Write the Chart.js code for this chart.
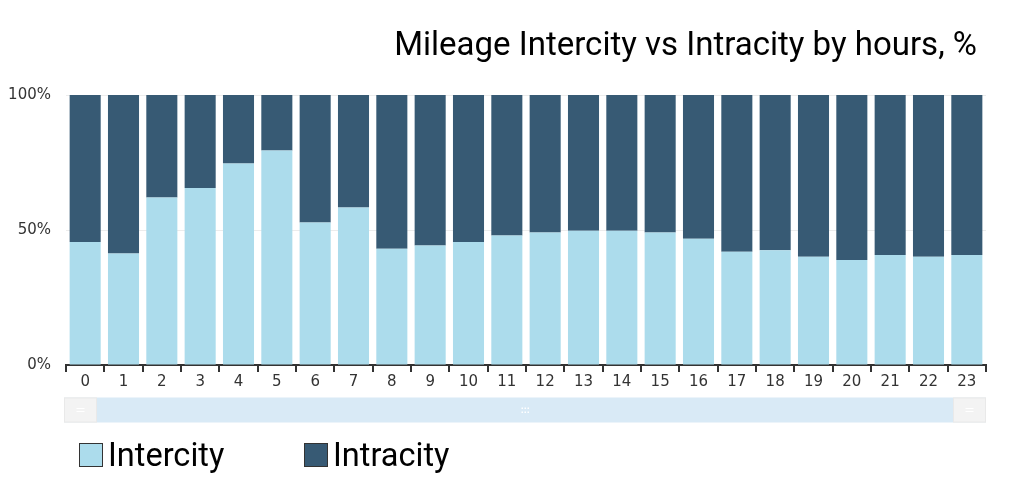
<!DOCTYPE html>
<html>
<head>
<meta charset="utf-8">
<script src="https://cdn.jsdelivr.net/npm/chart.js@4.4.1/dist/chart.umd.min.js"></script>
<style>
  html,body{margin:0;padding:0;background:#fff;}
  #wrap{position:relative;width:1024px;height:490px;overflow:hidden;}
  #c{position:absolute;left:0;top:0;}
  #title{position:absolute;right:47px;top:25px;font-family:Roboto,sans-serif;font-size:33px;line-height:38px;color:#000;white-space:nowrap;}
  .leg{position:absolute;top:436px;font-family:Roboto,sans-serif;font-size:32.5px;color:#000;white-space:nowrap;line-height:38px;}
  .sw{display:inline-block;width:22px;height:22px;border:1px solid #333;vertical-align:-1px;margin-right:5px;}
</style>
</head>
<body>
<div id="wrap">
  <canvas id="c" width="1024" height="490"></canvas>
  <div id="title">Mileage Intercity vs Intracity by hours, %</div>
  <div class="leg" style="left:79px"><span class="sw" style="background:#acdcec"></span>Intercity</div>
  <div class="leg" style="left:304px"><span class="sw" style="background:#375a74"></span>Intracity</div>
</div>
<script>
const hours = ['0','1','2','3','4','5','6','7','8','9','10','11','12','13','14','15','16','17','18','19','20','21','22','23'];
const intercity = [45.6,41.3,62.0,65.6,74.6,79.4,52.8,58.3,43.1,44.3,45.6,48.0,49.1,49.7,49.7,49.1,46.8,41.9,42.5,40.1,38.9,40.7,40.1,40.7];
const intracity = intercity.map(v => +(100 - v).toFixed(1));
const yTicks = [0, 50, 100];

const scrollbarPlugin = {
  id: 'scrollbar',
  afterDraw(chart) {
    const ctx = chart.ctx, a = chart.chartArea;
    const x0 = a.left - 2, x1 = a.right, y0 = 397.5, h = 25;
    ctx.save();
    ctx.fillStyle = '#d9eaf6';
    ctx.fillRect(x0, y0, x1 - x0, h);
    ctx.fillStyle = '#f3f3f3';
    ctx.strokeStyle = '#e9e9e9';
    ctx.lineWidth = 1;
    ctx.fillRect(x0, y0, 33, h); ctx.strokeRect(x0 + 0.5, y0 + 0.5, 32, h - 1);
    ctx.fillRect(x1 - 33, y0, 33, h); ctx.strokeRect(x1 - 32.5, y0 + 0.5, 32, h - 1);
    ctx.strokeStyle = '#ffffff';
    [x0 + 16.5, x1 - 16.5].forEach(cx => {
      ctx.beginPath();
      ctx.moveTo(cx - 4, y0 + 11); ctx.lineTo(cx + 4, y0 + 11);
      ctx.moveTo(cx - 4, y0 + 14); ctx.lineTo(cx + 4, y0 + 14);
      ctx.stroke();
    });
    ctx.fillStyle = '#ffffff';
    const cx = (x0 + x1) / 2;
    for (let i = -1; i <= 1; i++) for (let j = 0; j < 2; j++) ctx.fillRect(cx + i * 3 - 0.5, y0 + 10 + j * 4, 1.5, 1.5);
    ctx.restore();
  }
};

new Chart(document.getElementById('c'), {
  type: 'bar',
  data: {
    labels: hours,
    datasets: [
      { label: 'Intercity', data: intercity, backgroundColor: '#acdcec', borderWidth: 0 },
      { label: 'Intracity', data: intracity, backgroundColor: '#375a74', borderWidth: 0 }
    ]
  },
  plugins: [scrollbarPlugin],
  options: {
    responsive: false,
    animation: false,
    devicePixelRatio: 1,
    layout: { padding: { left: 0, right: 38, top: 95, bottom: 95 } },
    plugins: { legend: { display: false }, title: { display: false }, tooltip: { enabled: false } },
    datasets: { bar: { barPercentage: 0.81, categoryPercentage: 1.0 } },
    scales: {
      x: {
        stacked: true,
        offset: true,
        afterFit(s) { s.height = 30; },
        grid: { offset: true, drawOnChartArea: false, drawTicks: true, tickLength: 7, color: '#333', lineWidth: 2 },
        border: { display: true, color: '#333', width: 2 },
        ticks: { color: '#333', font: { family: 'DejaVu Sans', size: 15 }, padding: 1, maxRotation: 0, autoSkip: false }
      },
      y: {
        stacked: true,
        min: 0, max: 100,
        afterFit(s) { s.width = 66; },
        afterBuildTicks(s) { s.ticks = yTicks.map(v => ({ value: v })); },
        grid: { drawTicks: false, color: '#ececec', lineWidth: 1 },
        border: { display: false },
        ticks: { color: '#333', font: { family: 'DejaVu Sans', size: 15 }, padding: 15, callback: v => v + '%' }
      }
    }
  }
});
</script>
</body>
</html>
